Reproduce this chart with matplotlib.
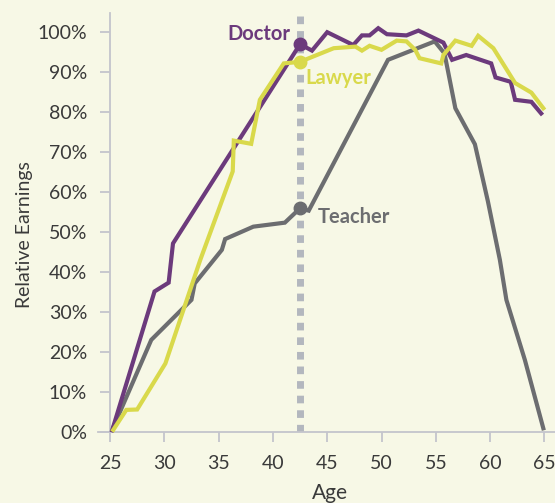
import matplotlib
matplotlib.use('Agg')
import matplotlib.pyplot as plt

plt.rcParams['font.family'] = ['Lato', 'DejaVu Sans']

# values (age, relative earnings in %)
doctor_age = [25.2, 29.1, 30.4, 30.8, 42.5, 43.6, 45.0, 47.4, 48.2, 48.9, 49.7, 50.5, 52.3, 53.4,
              55.7, 56.5, 57.8, 60.1, 60.5, 61.9, 62.3, 63.8, 64.7]
doctor_val = [0.5, 35.2, 37.4, 47.2, 97.0, 95.4, 100.0, 96.8, 99.2, 99.2, 101.0, 99.5, 99.2, 100.4,
              97.4, 93.1, 94.3, 92.2, 88.7, 87.6, 83.1, 82.6, 79.7]

lawyer_age = [25.3, 26.5, 27.5, 30.1, 33.3, 36.3, 36.4, 38.0, 38.8, 41.0, 42.5, 45.6, 47.6, 48.2,
              48.9, 50.0, 51.4, 52.3, 53.1, 53.5, 55.5, 55.7, 56.8, 58.3, 58.9, 60.3, 62.3, 63.8, 64.9]
lawyer_val = [0.6, 5.6, 5.7, 17.2, 43.0, 65.2, 72.9, 72.1, 83.1, 92.2, 92.6, 96.0, 96.4, 95.4,
              96.6, 95.6, 97.9, 97.7, 95.6, 93.5, 92.2, 94.3, 97.9, 96.6, 99.1, 96.0, 87.3, 84.9, 81.0]

teacher_age = [25.2, 28.8, 32.5, 32.8, 35.3, 35.6, 38.2, 41.1, 42.5, 43.3, 50.6, 54.9, 55.8, 56.8,
               58.6, 59.8, 60.9, 61.5, 63.2, 64.9]
teacher_val = [0.6, 23.1, 33.1, 37.2, 45.6, 48.3, 51.4, 52.4, 56.0, 55.4, 93.1, 97.7, 94.7, 81.0,
               72.0, 57.7, 43.1, 33.1, 18.1, 1.0]

marker_age = 42.5
xticks = [25, 30, 35, 40, 45, 50, 55, 60, 65]
yticks = [0, 10, 20, 30, 40, 50, 60, 70, 80, 90, 100]

bg = '#f7f8e6'
purple = '#6c3a7c'
yellow = '#d9d94b'
gray = '#6c6d70'
axis_col = '#c4c5cc'
text_col = '#3a3a3a'

fig = plt.figure(figsize=(5.55, 5.03), dpi=100, facecolor=bg)
ax = fig.add_axes([98 / 555, 1 - 432.3 / 503, 1 - 98 / 555, (432.3 - 13) / 503])
ax.set_facecolor(bg)

ax.plot([marker_age, marker_age], [0, 104], color='#b3b7be', lw=5, dashes=(1.1, 1.0), zorder=1)

ax.plot(teacher_age, teacher_val, color=gray, lw=3, zorder=2, clip_on=False, solid_joinstyle='miter')
ax.plot(doctor_age, doctor_val, color=purple, lw=3, zorder=3, clip_on=False, solid_joinstyle='miter')
ax.plot(lawyer_age, lawyer_val, color=yellow, lw=3, zorder=4, clip_on=False, solid_joinstyle='miter')

ax.plot([marker_age], [97.1], 'o', color=purple, ms=9, zorder=5)
ax.plot([marker_age], [92.6], 'o', color=yellow, ms=9, zorder=5)
ax.plot([marker_age], [56.1], 'o', color=gray, ms=9, zorder=5)

ax.text(41.6, 99.6, 'Doctor', color=purple, fontsize=14.5, fontweight='bold', ha='right', va='center')
ax.text(43.0, 88.6, 'Lawyer', color=yellow, fontsize=14.5, fontweight='bold', ha='left', va='center')
ax.text(44.1, 53.8, 'Teacher', color=gray, fontsize=14.5, fontweight='bold', ha='left', va='center')

ax.set_xlim(25 - 12 / 10.86, 25 + 445 / 10.86)
ax.set_ylim(0, 104.8)
ax.set_xticks(xticks)
ax.set_yticks(yticks)
ax.set_yticklabels([f'{v}%' for v in yticks])

for s in ['top', 'right']:
    ax.spines[s].set_visible(False)
ax.spines['left'].set_position(('data', 25))
for s in ['left', 'bottom']:
    ax.spines[s].set_color(axis_col)
    ax.spines[s].set_linewidth(1.3)

ax.tick_params(axis='both', colors=axis_col, width=1.3, length=7.5, pad=9,
               labelcolor=text_col, labelsize=14)

fig.text(25 / 555, 1 - 235 / 503, 'Relative Earnings', rotation=90, ha='center', va='center',
         fontsize=14, color=text_col)
fig.text(330 / 555, 1 - 493 / 503, 'Age', ha='center', va='center', fontsize=15, color=text_col)

fig.savefig('out.png', dpi=100, facecolor=bg)
